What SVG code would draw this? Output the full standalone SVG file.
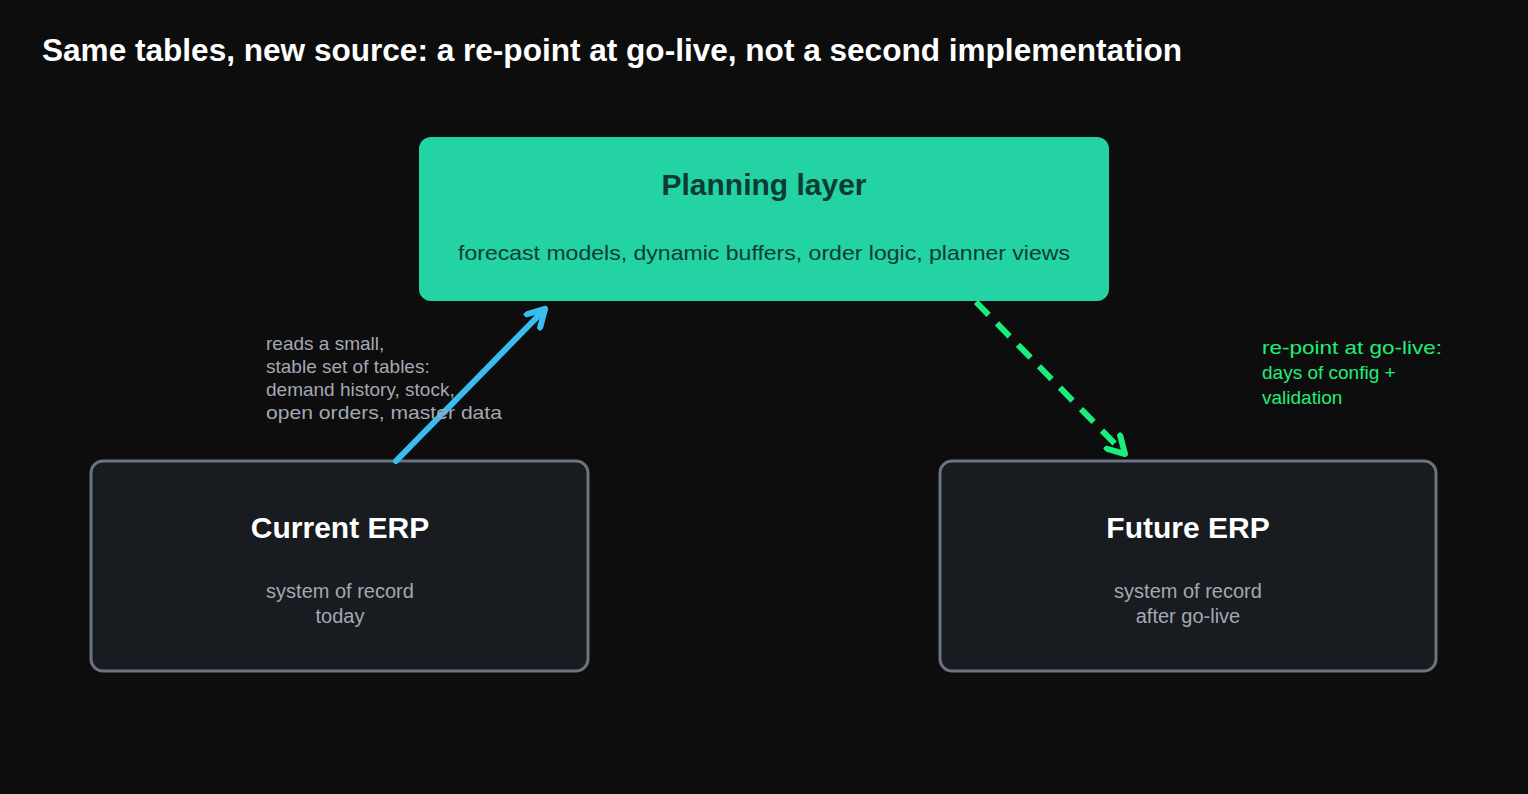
<svg xmlns="http://www.w3.org/2000/svg" width="1528" height="794" viewBox="0 0 1528 794">
<style>
text{font-family:"Liberation Sans",Arial,sans-serif}
.t{font-weight:bold;font-size:30px;fill:#fff;text-anchor:middle}
.s{font-size:20px;fill:#a3a9b3;text-anchor:middle}
.box{fill:#181b20;stroke:#6b7280;stroke-width:3}
.lab{font-size:19px}
</style>
<defs>
<marker id="ab" viewBox="0 0 10 10" refX="8" refY="5" markerWidth="4" markerHeight="4" orient="auto" markerUnits="strokeWidth"><path d="M1,1 L8,5 L1,9" fill="none" stroke="#38bdf0" stroke-width="2.5" stroke-linecap="round" stroke-linejoin="round"/></marker>
<marker id="ag" viewBox="0 0 10 10" refX="8" refY="5" markerWidth="4" markerHeight="4" orient="auto" markerUnits="strokeWidth"><path d="M1,1 L8,5 L1,9" fill="none" stroke="#1aee7a" stroke-width="2.5" stroke-linecap="round" stroke-linejoin="round"/></marker>
</defs>
<rect width="1528" height="794" fill="#0d0d0e"/>
<text x="42" y="61" font-size="31" font-weight="bold" fill="#fff" textLength="1140" lengthAdjust="spacingAndGlyphs">Same tables, new source: a re-point at go-live, not a second implementation</text>
<g id="planning">
<rect x="419" y="137" width="690" height="164" rx="12" fill="#23d3a3"/>
<text x="764" y="195" class="t" style="fill:#0d3a33">Planning layer</text>
<text x="764" y="260" font-size="21" fill="#0d3a33" text-anchor="middle" textLength="612" lengthAdjust="spacingAndGlyphs">forecast models, dynamic buffers, order logic, planner views</text>
</g>
<g id="current">
<rect x="91" y="461" width="497" height="210" rx="12" class="box"/>
<text x="340" y="538" class="t">Current ERP</text>
<text x="340" y="598" class="s">system of record</text>
<text x="340" y="623" class="s">today</text>
</g>
<g id="future">
<rect x="940" y="461" width="496" height="210" rx="12" class="box"/>
<text x="1188" y="538" class="t">Future ERP</text>
<text x="1188" y="598" class="s">system of record</text>
<text x="1188" y="623" class="s">after go-live</text>
</g>
<g id="connectors">
<line x1="396" y1="461" x2="545" y2="309" stroke="#38bdf0" stroke-width="6" stroke-linecap="round" marker-end="url(#ab)"/>
<line x1="976" y1="302" x2="1125" y2="454" stroke="#1aee7a" stroke-width="6" stroke-dasharray="18 12" marker-end="url(#ag)"/>
<g class="lab" fill="#a3a9b3">
<text x="266" y="350">reads a small,</text>
<text x="266" y="373">stable set of tables:</text>
<text x="266" y="396">demand history, stock,</text>
<text x="266" y="419" textLength="236" lengthAdjust="spacingAndGlyphs">open orders, master data</text>
</g>
<g class="lab" fill="#22ee77">
<text x="1262" y="354" textLength="180" lengthAdjust="spacingAndGlyphs">re-point at go-live:</text>
<text x="1262" y="379">days of config +</text>
<text x="1262" y="404">validation</text>
</g>
</g>
</svg>
